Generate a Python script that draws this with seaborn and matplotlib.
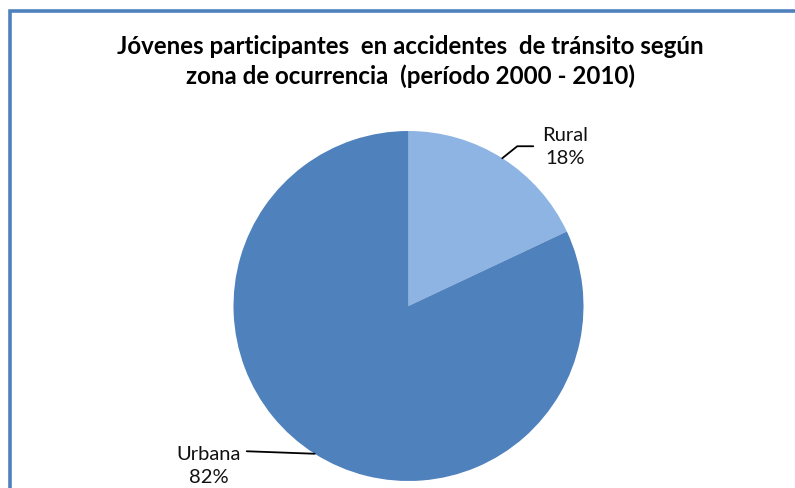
import numpy as np
import matplotlib
matplotlib.use("Agg")
import matplotlib.pyplot as plt
from matplotlib.patches import Rectangle
import seaborn as sns

categories = ["Rural", "Urbana"]
values = [18, 82]
colors = ["#8EB4E3", "#4F81BD"]
title_lines = ["Jóvenes participantes  en accidentes  de tránsito según",
               "zona de ocurrencia  (período 2000 - 2010)"]

sns.set_theme(style="white")
plt.rcParams['font.family'] = ['Lato', 'DejaVu Sans']

W, H = 795, 489
fig = plt.figure(figsize=(W / 100, H / 100), dpi=100)
ax = fig.add_axes([0, 0, 1, 1])

cx, cy, r = 408.5, H - 307, 175
wedges, _ = ax.pie(values, colors=colors, startangle=90, counterclock=False,
                   center=(cx, cy), radius=r, frame=True,
                   wedgeprops=dict(linewidth=0))
ax.set_xlim(0, W)
ax.set_ylim(0, H)
ax.set_aspect('equal')
ax.axis('off')

# frame border
ax.add_patch(Rectangle((10, -20), W + 20, H - 12 + 20, fill=False,
                       edgecolor="#4F81BD", linewidth=2.6, zorder=5))

ax.text(410, H - 47, title_lines[0], ha='center', va='center',
        fontsize=17.4, fontweight='bold', color='black')
ax.text(410, H - 76, title_lines[1], ha='center', va='center',
        fontsize=17.4, fontweight='bold', color='black')

# labels with leader lines at wedge mid-angles
for w, cat, v in zip(wedges, categories, values):
    mid = np.deg2rad((w.theta1 + w.theta2) / 2)
    px, py = cx + r * np.cos(mid), cy + r * np.sin(mid)
    if np.cos(mid) > 0:
        kx, ky = px + 15, py + 12
        ex = kx + 16
        ax.plot([px, kx, ex], [py, ky, ky], color='black', lw=1.3, zorder=6)
        ax.text(565, H - 147, f"{cat}\n{v}%", ha='center', va='center',
                fontsize=14.5, linespacing=1.4, color='#111111')
    else:
        ex = px - 68
        ax.plot([px, ex], [py, py + 2.5], color='black', lw=1.3, zorder=6)
        ax.text(209, H - 466, f"{cat}\n{v}%", ha='center', va='center',
                fontsize=14.5, linespacing=1.4, color='#111111')

fig.savefig("out.png", dpi=100)
